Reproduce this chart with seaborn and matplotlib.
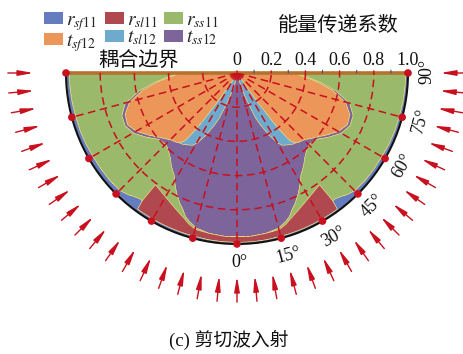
import numpy as np
import matplotlib
matplotlib.use("Agg")
import matplotlib.pyplot as plt
from matplotlib.patches import Patch
import seaborn as sns

# Incidence angle (deg) on one side; the pattern is mirrored about 0 deg
angle_deg = [0, 5, 10, 15, 18, 20, 22, 24, 27, 30, 32, 33, 34, 35, 36, 36.4,
             36.8, 37.5, 38, 40, 42, 45, 50, 55, 60, 65, 70, 75, 80, 84, 87, 90]

# Energy transfer coefficients (stacked from the centre outwards)
t_sf12 = [0, 0, 0, 0, 0, 0, 0, 0, 0, 0, 0, 0.02, 0.10, 0.20, 0.33, 0.38,
          0.42, 0.47, 0.50, 0.53, 0.54, 0.55, 0.585, 0.63, 0.68, 0.71, 0.70, 0.655,
          0.565, 0.47, 0.40, 0.34]
t_sl12 = [0, 0, 0.03, 0.08, 0.14, 0.20, 0.28, 0.33, 0.405, 0.47, 0.495, 0.48,
          0.405, 0.31, 0.185, 0.137, 0.10, 0.052, 0.025, 0, 0, 0, 0, 0, 0, 0, 0,
          0, 0, 0, 0, 0]
t_ss12 = [0.955, 0.955, 0.92, 0.855, 0.77, 0.69, 0.575, 0.50, 0.38, 0.265, 0.205,
          0.19, 0.175, 0.16, 0.145, 0.138, 0.13, 0.12, 0.11, 0.09, 0.065, 0.04,
          0.015, 0.02, 0.02, 0.015, 0.02, 0.025, 0.02, 0.015, 0.01, 0.005]
r_ss11 = [0, 0, 0, 0.01, 0.015, 0.015, 0.035, 0.045, 0.07, 0.102, 0.127, 0.132,
          0.138, 0.144, 0.15, 0.155, 0.28, 0.288, 0.295, 0.32, 0.35, 0.38, 0.375,
          0.325, 0.275, 0.253, 0.26, 0.30, 0.397, 0.498, 0.574, 0.64]
r_sl11 = [0.033, 0.033, 0.037, 0.04, 0.06, 0.08, 0.095, 0.11, 0.13, 0.148, 0.158,
          0.163, 0.167, 0.171, 0.175, 0.175, 0, 0, 0, 0, 0, 0, 0, 0, 0, 0, 0, 0,
          0, 0, 0, 0]
r_sf11 = [0.012, 0.012, 0.013, 0.015, 0.015, 0.015, 0.015, 0.015, 0.015, 0.015,
          0.015, 0.015, 0.015, 0.015, 0.015, 0.015, 0.07, 0.07, 0.07, 0.06, 0.045,
          0.03, 0.025, 0.025, 0.025, 0.022, 0.02, 0.02, 0.018, 0.017, 0.016, 0.015]

layer_values = [t_sf12, t_sl12, t_ss12, r_ss11, r_sl11, r_sf11]
layer_colors = ["#ec965a", "#6eaacd", "#7d649b", "#9bb96b", "#b04850", "#647dbe"]
layer_labels = [r"$t_{sf12}$", r"$t_{sl12}$", r"$t_{ss12}$",
                r"$r_{ss11}$", r"$r_{sl11}$", r"$r_{sf11}$"]

radial_ticks = [0, 0.2, 0.4, 0.6, 0.8, 1.0]
radial_tick_labels = ["0", "0.2", "0.4", "0.6", "0.8", "1.0"]
minor_radial_ticks = [0.1, 0.3, 0.5, 0.7, 0.9]
angle_ticks = [0, 15, 30, 45, 60, 75, 90]

RED = "#c8101e"
sns.set_theme(style="white")
plt.rcParams["font.family"] = ["Liberation Serif", "Noto Sans CJK SC"]
plt.rcParams["mathtext.fontset"] = "stix"

fig = plt.figure(figsize=(4.63, 3.54), dpi=100)
# square box; the half disc sits in its vertical middle
ax = fig.add_axes([66 / 463, 24.5 / 354, 342 / 463, 342 / 354], projection="polar")
ax.set_theta_zero_location("S")
ax.set_theta_direction(1)
ax.set_thetamin(-90)
ax.set_thetamax(90)
ax.set_ylim(0, 1)

# mirror one side onto the other
a = np.asarray(angle_deg, dtype=float)
theta = np.deg2rad(np.concatenate([-a[::-1], a[1:]]))
stack = np.vstack([np.concatenate([np.asarray(v)[::-1], np.asarray(v)[1:]])
                   for v in layer_values])
upper = np.cumsum(stack, axis=0)
lower = np.vstack([np.zeros(theta.size), upper[:-1]])

for k in range(len(layer_values)):
    ax.fill_between(theta, lower[k], upper[k], facecolor=layer_colors[k],
                    edgecolor="#e8d67c", linewidth=0.4, zorder=1)

# dashed red grid
ax.set_thetagrids(np.arange(-75, 76, 15), labels=[""] * 11)
ax.set_rgrids([0.2, 0.4, 0.6, 0.8], labels=[""] * 4)
ax.grid(True, color=RED, linestyle=(0, (5, 3)), linewidth=1.1)
ax.set_axisbelow(False)
ax.tick_params(length=0)

ax.spines["polar"].set_color("#111111")
ax.spines["polar"].set_linewidth(1.5)
for s in ("start", "end"):
    ax.spines[s].set_color("#b5722f")
    ax.spines[s].set_linewidth(2.6)

# markers on the rim
dot_deg = np.array(angle_ticks, dtype=float)
dot_theta = np.deg2rad(np.concatenate([-dot_deg[::-1], dot_deg[1:]]))
sns.scatterplot(x=dot_theta, y=np.ones_like(dot_theta), ax=ax, color=RED, s=30,
                edgecolor="none", zorder=8, clip_on=False, legend=False)
ax.set_xlabel("")
ax.set_ylabel("")

# angle labels along the right rim
for d in angle_ticks:
    ax.text(np.deg2rad(d + 0.6), 1.11, f"{d}°", rotation=d, rotation_mode="anchor",
            ha="center", va="center", fontsize=13, color="#111111",
            family=["Liberation Serif", "DejaVu Sans"])

# energy scale along the coupling boundary
for v, lbl in zip(radial_ticks, radial_tick_labels):
    ax.annotate(lbl, xy=(np.pi / 2, v), xytext=(0, 6), textcoords="offset points",
                ha="center", va="baseline", fontsize=13, color="#111111",
                annotation_clip=False)
    ax.annotate("", xy=(np.pi / 2, v), xytext=(0, 3.5), textcoords="offset points",
                arrowprops=dict(arrowstyle="-", color=RED, lw=1.0),
                annotation_clip=False)
for v in minor_radial_ticks:
    ax.annotate("", xy=(np.pi / 2, v), xytext=(0, 2), textcoords="offset points",
                arrowprops=dict(arrowstyle="-", color="#3a4a8a", lw=0.8),
                annotation_clip=False)

# incident shear waves
for d in np.arange(-90, 91, 5):
    t = np.deg2rad(d)
    ax.annotate("", xy=(t, 1.19), xytext=(t, 1.34), xycoords="data",
                arrowprops=dict(arrowstyle="-|>,head_length=0.9,head_width=0.16",
                                color=RED, lw=1.0, shrinkA=0, shrinkB=0,
                                mutation_scale=10),
                annotation_clip=False)

fig.text(338 / 463, 1 - 25 / 354, "能量传递系数", ha="center", va="center",
         fontsize=14.5, family=["Noto Sans CJK SC"], color="#111111")
fig.text(139 / 463, 1 - 61.5 / 354, "耦合边界", ha="center", va="center",
         fontsize=14.5, family=["Noto Sans CJK SC"], color="#111111")
fig.text(229 / 463, 1 - 340 / 354, "(c) 剪切波入射", ha="center", va="center",
         fontsize=13.5, family=["Liberation Serif", "Noto Sans CJK SC"], color="#111111")

# legend: one column per wave type (reflected on top, transmitted below)
legend_columns = [(5, 0), (4, 1), (3, 2)]
legend_x = [44, 105, 164]
for (top_i, bot_i), x0 in zip(legend_columns, legend_x):
    hs = [Patch(facecolor=layer_colors[i], edgecolor="none") for i in (top_i, bot_i)]
    fig.legend(hs, [layer_labels[top_i], layer_labels[bot_i]], loc="upper left",
               bbox_to_anchor=(x0 / 463, 1 - 12 / 354), frameon=False, fontsize=14,
               handlelength=1.0, handleheight=0.55, handletextpad=0.12,
               labelspacing=-0.05, borderpad=0, borderaxespad=0)

fig.savefig("out.png", dpi=100)
